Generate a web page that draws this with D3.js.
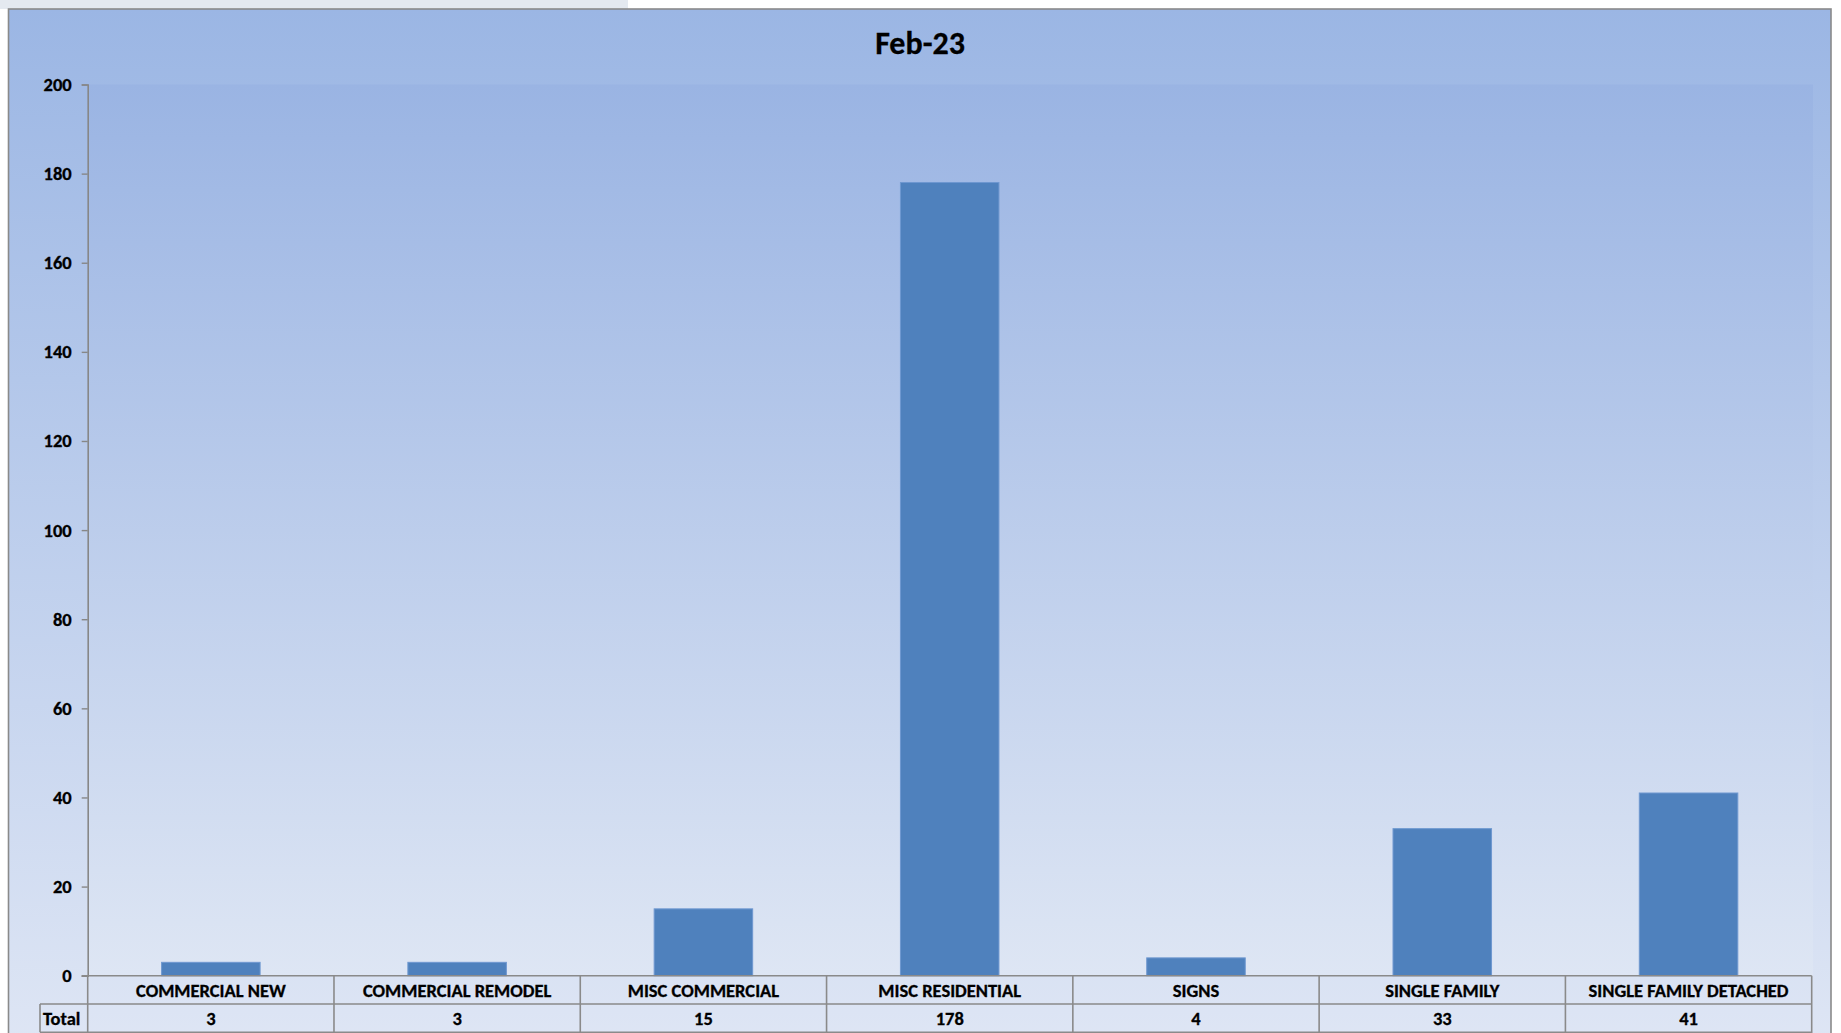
<!DOCTYPE html>
<html>
<head>
<meta charset="utf-8">
<script src="https://cdn.jsdelivr.net/npm/d3@7"></script>
<style>
  html, body { margin: 0; padding: 0; background: #ffffff; overflow: hidden; }
  svg { display: block; }
  text { font-family: Carlito, Lato, "Open Sans", sans-serif; font-weight: bold; fill: #000; stroke: #000; stroke-width: 0.3px; }
</style>
</head>
<body>
<svg id="chart" width="1841" height="1033"></svg>
<script>
// Permit counts by type for the month
const title = "Feb-23";
const categories = ["COMMERCIAL NEW", "COMMERCIAL REMODEL", "MISC COMMERCIAL", "MISC RESIDENTIAL", "SIGNS", "SINGLE FAMILY", "SINGLE FAMILY DETACHED"];
const totals = [3, 3, 15, 178, 4, 33, 41];
const rowLabel = "Total";
const yTicks = [0, 20, 40, 60, 80, 100, 120, 140, 160, 180, 200];

const svg = d3.select("#chart");
const W = 1841, H = 1033;

// layout
const frame = { x: 8.5, y: 9, r: 1831 };
const plot = { left: 87.7, right: 1811.7, top: 84.5, bottom: 975.7, bgRight: 1813 };
const rowH = 28.3;

const defs = svg.append("defs");
const gOuter = defs.append("linearGradient").attr("id", "gOuter").attr("x1", 0).attr("y1", 0).attr("x2", 0).attr("y2", 1);
gOuter.append("stop").attr("offset", "0%").attr("stop-color", "#9bb6e4");
gOuter.append("stop").attr("offset", "100%").attr("stop-color", "#e0e7f5");
const gPlot = defs.append("linearGradient").attr("id", "gPlot").attr("x1", 0).attr("y1", 0).attr("x2", 0).attr("y2", 1);
gPlot.append("stop").attr("offset", "0%").attr("stop-color", "#9ab4e3");
gPlot.append("stop").attr("offset", "100%").attr("stop-color", "#dee6f4");

// sheet strip peeking above the chart
svg.append("rect").attr("x", 0).attr("y", 0).attr("width", 628).attr("height", 9).attr("fill", "#e4e9f0");

// chart area
svg.append("rect")
  .attr("x", frame.x).attr("y", frame.y)
  .attr("width", frame.r - frame.x).attr("height", H + 40 - frame.y)
  .attr("fill", "url(#gOuter)")
  .attr("stroke", "#8a8a8a").attr("stroke-width", 1.6);

// plot area
svg.append("rect")
  .attr("x", plot.left).attr("y", plot.top)
  .attr("width", plot.bgRight - plot.left).attr("height", plot.bottom - plot.top)
  .attr("fill", "url(#gPlot)");

// title
svg.append("text")
  .attr("x", 920).attr("y", 54)
  .attr("text-anchor", "middle")
  .style("font-size", "32px")
  .text(title);

// scales
const x = d3.scaleBand().domain(categories).range([plot.left, plot.right]).paddingInner(0.6).paddingOuter(0.3);
const y = d3.scaleLinear().domain([0, 200]).range([plot.bottom, plot.top]);
const step = x.step();

// bars
svg.append("g").selectAll("rect")
  .data(categories)
  .join("rect")
  .attr("x", c => x(c))
  .attr("y", (c, i) => y(totals[i]))
  .attr("width", x.bandwidth())
  .attr("height", (c, i) => y(0) - y(totals[i]))
  .attr("fill", "#4f81bd")
  .attr("stroke", "#6f98d0").attr("stroke-width", 1);

// y axis
const yAxis = svg.append("g")
  .attr("transform", `translate(${plot.left},0)`)
  .call(d3.axisLeft(y).tickValues(yTicks).tickSize(6).tickPadding(10));
yAxis.select(".domain").attr("stroke", "#878787").attr("stroke-width", 1.6);
yAxis.selectAll(".tick line").attr("stroke", "#878787").attr("stroke-width", 1.4);
yAxis.selectAll(".tick text").style("font-size", "18.5px").attr("font-family", null).attr("fill", "#000");

// data table under the axis: category row and total row
const gridColor = "#8a8a8a";
const tableRight = plot.right;
const tbl = svg.append("g");
tbl.selectAll("text.cat")
  .data(categories)
  .join("text")
  .attr("class", "cat")
  .attr("x", c => x(c) + x.bandwidth() / 2)
  .attr("y", plot.bottom + 21)
  .attr("text-anchor", "middle")
  .style("font-size", "18.5px")
  .text(c => c);
tbl.selectAll("text.val")
  .data(totals)
  .join("text")
  .attr("class", "val")
  .attr("x", (d, i) => x(categories[i]) + x.bandwidth() / 2)
  .attr("y", plot.bottom + rowH + 21)
  .attr("text-anchor", "middle")
  .style("font-size", "18.5px")
  .text(d => d);
tbl.append("text")
  .attr("x", 43).attr("y", plot.bottom + rowH + 21)
  .style("font-size", "18.5px")
  .text(rowLabel);

// grid lines
const lines = [];
lines.push([plot.left - 6, plot.bottom, tableRight, plot.bottom]);
lines.push([40, plot.bottom + rowH, tableRight, plot.bottom + rowH]);
lines.push([40, plot.bottom + 2 * rowH, tableRight, plot.bottom + 2 * rowH]);
lines.push([40, plot.bottom + rowH, 40, plot.bottom + 2 * rowH]);
const bounds = [plot.left].concat(categories.map((c, i) => plot.left + (i + 1) * step));
bounds.forEach(b => lines.push([b, plot.bottom, b, plot.bottom + 2 * rowH + 2]));
tbl.selectAll("line")
  .data(lines)
  .join("line")
  .attr("x1", d => d[0]).attr("y1", d => d[1])
  .attr("x2", d => d[2]).attr("y2", d => d[3])
  .attr("stroke", gridColor).attr("stroke-width", 1.6);
</script>
</body>
</html>
